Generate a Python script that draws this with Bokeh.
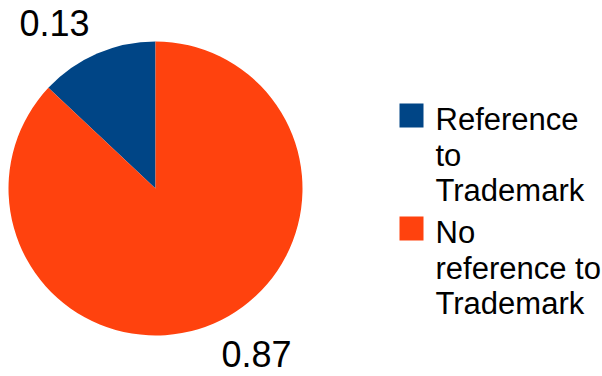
import math
from bokeh.plotting import figure
from bokeh.models import ColumnDataSource, Range1d
from bokeh.core.properties import value
from bokeh.embed import file_html
from bokeh.resources import INLINE

# ---- data ----
categories = ["Reference\nto\nTrademark", "No\nreference to\nTrademark"]
shares = [0.13, 0.87]
share_labels = ["0.13", "0.87"]
colors = ["#004586", "#ff420e"]

# ---- layout (screen px, y measured from top) ----
W, H = 602, 376
CX, CY, R = 155, 188, 147
R_LABEL = 166
FONT = "Liberation Sans"
LEG_SQ_X, LEG_SQ, LEG_SQ_DY = 399, 24, -16
LEG_TEXT_X, LEG_FIRST_BASE = 435, 119
LEG_LINE, LEG_GAP = 35.5, 6.5


def fy(py):
    return H - py


starts, ends = [], []
acc = math.pi / 2
for s in shares:
    starts.append(acc)
    acc += s * 2 * math.pi
    ends.append(acc)

src = ColumnDataSource(dict(category=categories, start=starts, end=ends, color=colors))

p = figure(width=W, height=H, output_backend="svg", toolbar_location=None,
           x_range=Range1d(0, W), y_range=Range1d(0, H), min_border=0)
p.axis.visible = False
p.grid.visible = False
p.outline_line_color = None
p.background_fill_color = "white"
p.border_fill_color = "white"

p.wedge(x=CX, y=fy(CY), radius=R, radius_units="screen", start_angle="start", end_angle="end",
        direction="anticlock", fill_color="color", line_color=None, source=src)

# value labels
for a0, a1, lab in zip(starts, ends, share_labels):
    mid = (a0 + a1) / 2
    lx = CX + R_LABEL * math.cos(mid)
    ly = fy(CY) + R_LABEL * math.sin(mid)
    p.text(x=[lx], y=[ly], text=[lab], text_font=value(FONT), text_font_size="36px",
           text_color="black",
           text_align="right" if math.cos(mid) < 0 else "left",
           text_baseline="bottom" if math.sin(mid) > 0 else "top")

# legend
base = LEG_FIRST_BASE
for cat, col in zip(categories, colors):
    lines = cat.split("\n")
    sq_top = base + LEG_SQ_DY
    p.rect(x=[LEG_SQ_X + LEG_SQ / 2], y=[fy(sq_top + LEG_SQ / 2)], width=LEG_SQ, height=LEG_SQ,
           width_units="screen", height_units="screen", fill_color=col, line_color=None)
    ys = [fy(base + j * LEG_LINE) for j in range(len(lines))]
    p.text(x=[LEG_TEXT_X] * len(lines), y=ys, text=lines, text_font=value(FONT),
           text_font_size="31px", text_color="black", text_align="left",
           text_baseline="alphabetic")
    base += len(lines) * LEG_LINE + LEG_GAP

open("out.html", "w").write(file_html(p, INLINE))
